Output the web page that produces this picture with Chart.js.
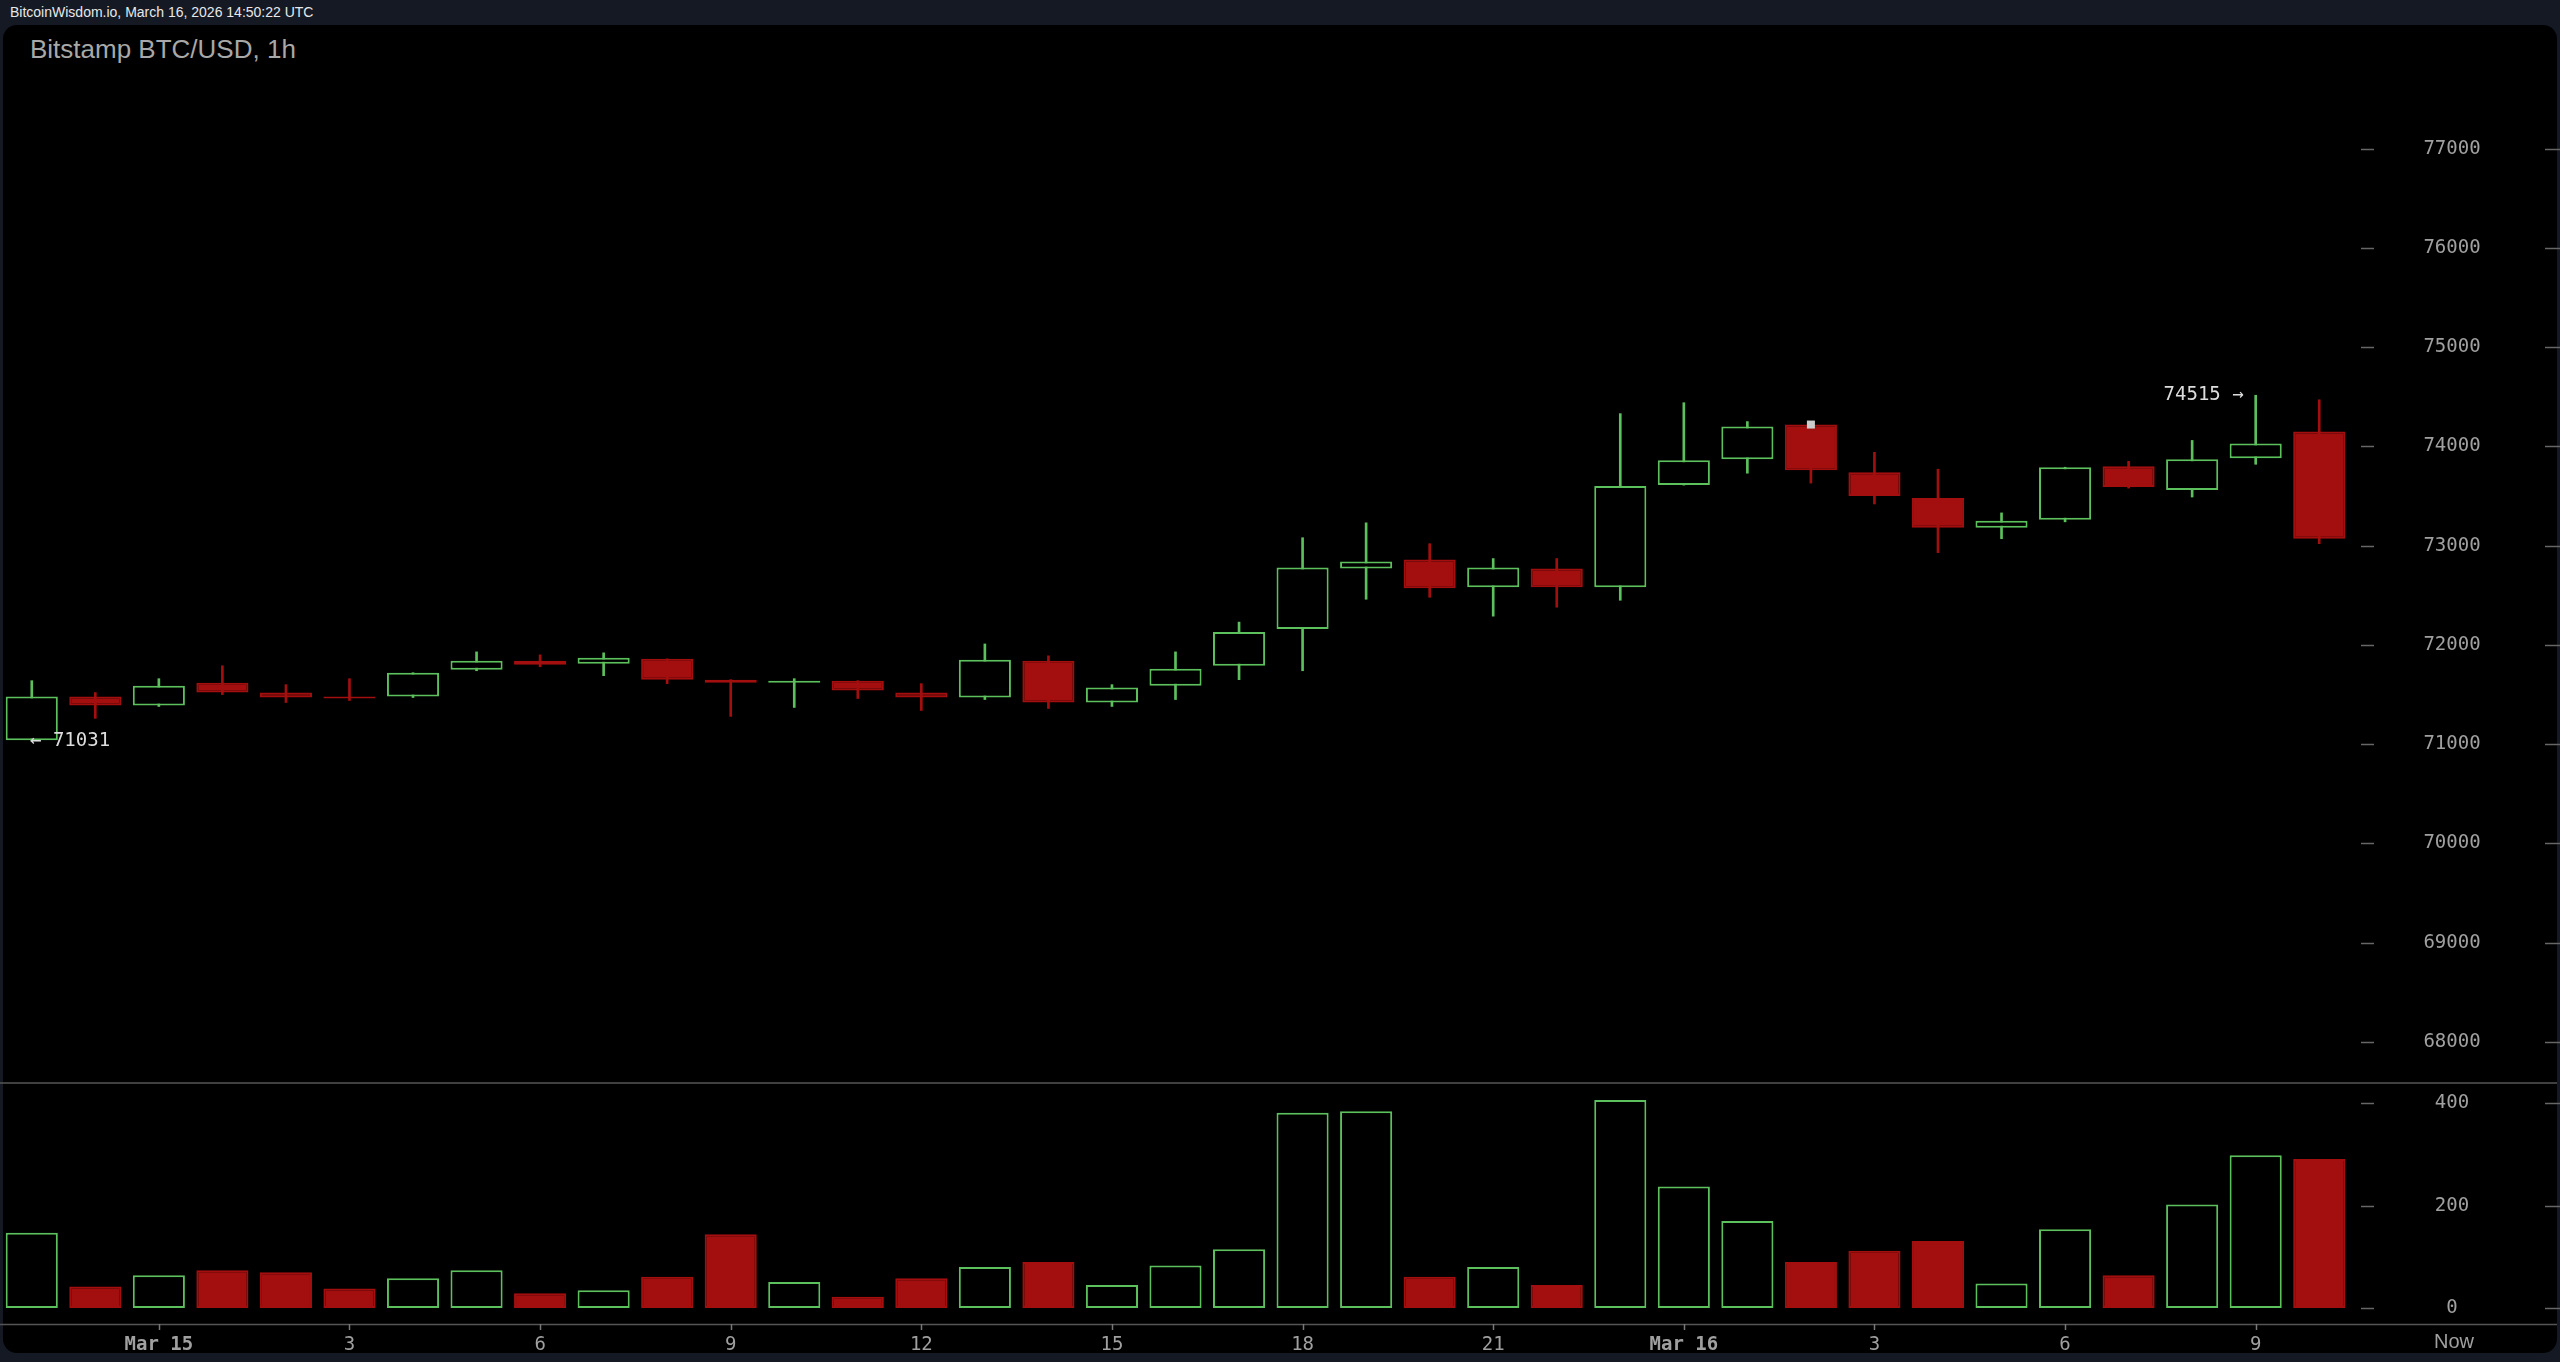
<!DOCTYPE html>
<html><head><meta charset="utf-8">
<script src="https://cdn.jsdelivr.net/npm/chart.js@4"></script>
<style>
html,body{margin:0;padding:0;background:#141923;width:2560px;height:1362px;overflow:hidden;font-family:"Liberation Sans",Arial,sans-serif}
#top{position:absolute;left:10px;top:4px;color:#e8e8e8;font-size:14px}
#panel{position:absolute;left:3px;top:25px;width:2554px;height:1328px;background:#000;border-radius:14px}
#title{position:absolute;left:30px;top:34px;color:#a8a8a8;font-size:26px}
canvas{position:absolute;left:0}
</style></head><body>
<div id="top">BitcoinWisdom.io, March 16, 2026 14:50:22 UTC</div>
<div id="panel"></div>
<div id="title">Bitstamp BTC/USD, 1h</div>
<canvas id="pc" width="2560" height="1057" style="top:25px"></canvas>
<canvas id="vc" width="2560" height="270" style="top:1082px"></canvas>
<script>
const hours=[22,23,0,1,2,3,4,5,6,7,8,9,10,11,12,13,14,15,16,17,18,19,20,21,22,23,0,1,2,3,4,5,6,7,8,9,10];
const open=[71040,71480,71390,71620,71520,71480,71480,71750,71840,71810,71860,71650,71620,71640,71520,71470,71840,71420,71590,71790,72160,72770,72860,72580,72770,72580,73610,73870,74220,73740,73480,73180,73260,73800,73560,73880,74150];
const close=[71480,71390,71590,71520,71470,71460,71720,71840,71800,71870,71650,71620,71640,71540,71470,71850,71420,71570,71760,72130,72780,72840,72570,72780,72580,73600,73860,74200,73760,73500,73180,73250,73790,73590,73870,74030,73070];
const high=[71640,71520,71660,71790,71600,71660,71720,71930,71900,71920,71860,71650,71660,71640,71610,72010,71890,71600,71930,72230,73080,73230,73020,72870,72870,74330,74440,74250,74230,73940,73770,73330,73790,73850,74060,74515,74470];
const low=[71031,71260,71380,71500,71420,71440,71470,71740,71780,71690,71610,71280,71370,71460,71340,71450,71360,71380,71450,71650,71740,72460,72480,72290,72380,72450,73610,73730,73630,73420,72930,73070,73240,73580,73490,73820,73020];
const volume=[147,42,64,74,70,38,58,74,29,35,61,144,51,22,58,80,90,45,83,115,381,384,61,80,45,406,237,170,90,112,131,48,154,64,202,298,291];
const priceTicks=[68000,69000,70000,71000,72000,73000,74000,75000,76000,77000];
const volTicks=[0,200,400];
const G='#5cc05c',R='#a30f0f',GREY='#a0a0a0',MONO='"DejaVu Sans Mono","Liberation Mono",monospace';
const labels=hours.map((h,i)=>String(i));
const up=open.map((o,i)=>close[i]>=o);
const col=up.map(u=>u?G:R);
const AXW=209;
function fitY(s){s.width=AXW;}
const dashes={id:'dashes',afterDraw(c){const y=c.scales.y,ctx=c.ctx;ctx.save();ctx.strokeStyle='#666';ctx.lineWidth=1.5;
 ctx.fillStyle=GREY;ctx.font='19px '+MONO;ctx.textAlign='center';ctx.textBaseline='middle';
 y.ticks.forEach(t=>{const p=Math.round(y.getPixelForValue(t.value))+0.5;ctx.beginPath();ctx.moveTo(2361,p);ctx.lineTo(2374,p);ctx.moveTo(2545,p);ctx.lineTo(2560,p);ctx.stroke();ctx.fillText(String(t.value),2452,p);});ctx.restore();}};
const notes={id:'notes',afterDraw(c){const x=c.scales.x,y=c.scales.y,ctx=c.ctx;ctx.save();ctx.fillStyle='#dcdcdc';ctx.font='19px '+MONO;ctx.textBaseline='middle';
 const li=low.indexOf(Math.min(...low)),hi=high.indexOf(Math.max(...high));
 ctx.textAlign='left';ctx.fillText('← '+low[li],30,y.getPixelForValue(low[li]));
 ctx.textAlign='right';ctx.fillText(high[hi]+' →',x.getPixelForValue(hi)-12,y.getPixelForValue(high[hi]));
 ctx.fillStyle='#ccc';const px=x.getPixelForValue(28),py=y.getPixelForValue(open[28]);ctx.fillRect(px-4,py-4,8,8);
 ctx.restore();}};
new Chart(document.getElementById('pc'),{type:'bar',
 data:{labels,datasets:[
  {data:low.map((l,i)=>[l,high[i]]),backgroundColor:col,borderWidth:0,barThickness:2,grouped:false,order:2},
  {data:open.map((o,i)=>[Math.min(o,close[i]),Math.max(o,close[i])+ (Math.abs(o-close[i])<15?15:0)]),backgroundColor:up.map(u=>u?'#000':R),borderColor:col,borderWidth:2,borderSkipped:false,categoryPercentage:1,barPercentage:0.82,grouped:false,order:1}
 ]},
 options:{responsive:false,devicePixelRatio:1,animation:false,layout:{padding:0},plugins:{legend:{display:false},tooltip:{enabled:false}},
  scales:{x:{display:false,offset:true},
   y:{position:'right',min:67597,max:78245,afterFit:fitY,afterBuildTicks(s){s.ticks=priceTicks.map(v=>({value:v}));},
    grid:{display:false},border:{display:false},ticks:{display:false}}}},
 plugins:[dashes,notes]});
const xlab=(i)=>{const h=hours[i];if(h%3)return '';if(h===0)return i<10?'Mar 15':'Mar 16';return String(h);};
const vx={id:'vx',afterDraw(c){const ctx=c.ctx,a=c.chartArea;ctx.save();ctx.strokeStyle='#555';ctx.lineWidth=1.5;
 ctx.beginPath();ctx.moveTo(0,1);ctx.lineTo(2557,1);ctx.moveTo(0,a.bottom+0.5);ctx.lineTo(2557,a.bottom+0.5);ctx.stroke();
 ctx.strokeStyle='#777';hours.forEach((h,i)=>{if(h%3)return;const p=Math.round(c.scales.x.getPixelForValue(i))+0.5;ctx.beginPath();ctx.moveTo(p,a.bottom);ctx.lineTo(p,a.bottom+6);ctx.stroke();});
 ctx.fillStyle=GREY;ctx.font='20px "Liberation Sans",Arial';ctx.textAlign='center';ctx.textBaseline='middle';ctx.fillText('Now',2454,a.bottom+18);
 ctx.restore();}};
new Chart(document.getElementById('vc'),{type:'bar',
 data:{labels,datasets:[{data:volume,backgroundColor:up.map(u=>u?'#000':R),borderColor:col,borderWidth:2,borderSkipped:false,categoryPercentage:1,barPercentage:0.82}]},
 options:{responsive:false,devicePixelRatio:1,animation:false,layout:{padding:0},plugins:{legend:{display:false},tooltip:{enabled:false}},
  scales:{x:{offset:true,afterFit(s){s.height=28;},grid:{display:false},border:{display:false},
    ticks:{autoSkip:false,maxRotation:0,color:GREY,padding:2,font:(ctx)=>({family:MONO,size:19,weight:(xlab(ctx.index||0).startsWith('Mar')?'bold':'normal')}),callback:(v,i)=>xlab(i)}},
   y:{position:'right',min:-31,max:441,afterFit:fitY,afterBuildTicks(s){s.ticks=volTicks.map(v=>({value:v}));},
    grid:{display:false},border:{display:false},ticks:{display:false}}}},
 plugins:[dashes,vx]});
</script></body></html>
